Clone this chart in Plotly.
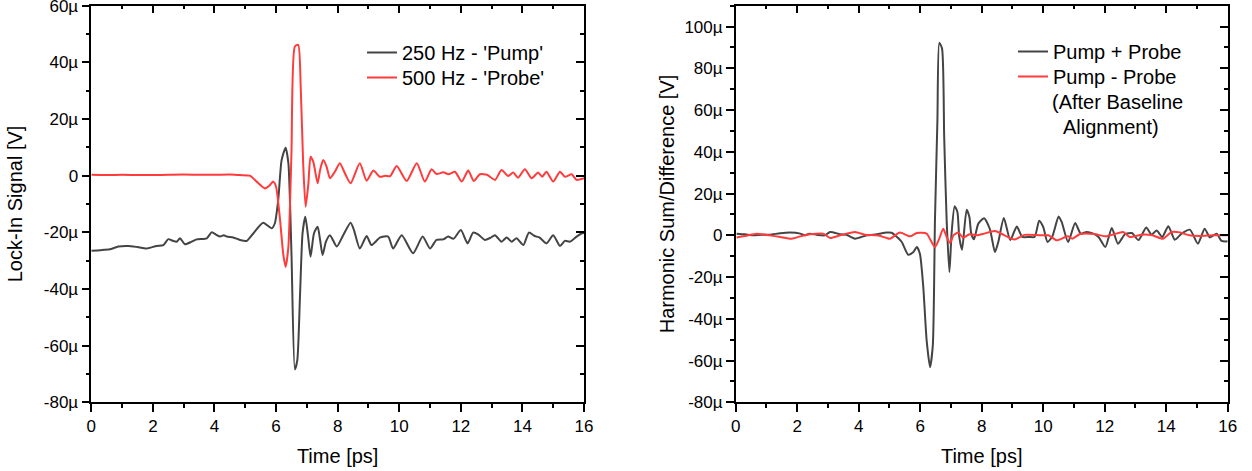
import plotly.graph_objects as go

# ---------------- data (µV vs ps) ----------------
pump_t = [0, 0.3, 0.6, 0.88, 1.2, 1.5, 1.8, 2.12, 2.34, 2.5, 2.65, 2.77, 2.88, 3.04, 3.26, 3.42,
          3.75, 3.91, 4.05, 4.18, 4.3, 4.4, 4.61, 4.83, 5.05, 5.26, 5.58, 5.86, 5.96, 6.07, 6.18,
          6.31, 6.4, 6.5, 6.61, 6.69, 6.78, 6.86, 6.95, 7.04, 7.12, 7.23, 7.35, 7.43, 7.51, 7.62,
          7.75, 7.97, 8.18, 8.42, 8.53, 8.72, 8.94, 9.1, 9.37, 9.64, 9.8, 10.08, 10.45, 10.76,
          11.0, 11.21, 11.43, 11.59, 11.76, 12.0, 12.22, 12.4, 12.56, 12.78, 12.95, 13.11, 13.32,
          13.49, 13.65, 13.81, 14.03, 14.21, 14.4, 14.55, 14.78, 15.0, 15.22, 15.38, 15.54, 15.76,
          15.92, 16.0]
pump_v = [-26.5, -26.3, -26.0, -25.0, -24.8, -25.2, -25.7, -24.8, -24.5, -22.4, -23.0, -23.3,
          -22.1, -24.2, -23.3, -22.5, -22.1, -20.0, -20.8, -21.5, -21.0, -21.5, -21.8, -22.7,
          -23.0, -20.4, -16.6, -18.6, -16.8, -8.6, 5.5, 9.9, 4.4, -27.4, -68.4, -65.1, -41.6,
          -20.4, -14.5, -21.5, -28.6, -20.4, -18.0, -22.7, -28.0, -23.3, -21.0, -25.0, -21.0,
          -16.6, -19.2, -25.7, -21.3, -24.5, -21.9, -21.5, -25.7, -21.0, -27.4, -21.5, -25.7,
          -22.7, -22.5, -21.5, -22.3, -19.2, -23.9, -20.1, -20.7, -22.7, -22.0, -21.0, -23.3,
          -21.8, -23.3, -22.1, -24.5, -20.1, -21.3, -21.8, -23.9, -21.0, -24.8, -23.0, -23.3,
          -21.5, -20.4, -20.2]

probe_t = [0, 0.5, 1, 1.5, 2, 2.5, 3, 3.5, 4, 4.5, 4.83, 5.15, 5.37, 5.64, 5.8, 5.91, 6.0, 6.13,
           6.23, 6.31, 6.4, 6.5, 6.61, 6.72, 6.8, 6.88, 6.96, 7.05, 7.12, 7.21, 7.35, 7.43, 7.53,
           7.64, 7.75, 7.91, 8.07, 8.25, 8.42, 8.72, 8.94, 9.16, 9.37, 9.55, 9.7, 9.92, 10.24,
           10.57, 10.83, 11.05, 11.21, 11.43, 11.6, 11.81, 12.03, 12.24, 12.42, 12.62, 12.85,
           13.11, 13.32, 13.54, 13.7, 13.86, 14.08, 14.3, 14.51, 14.64, 14.78, 15.0, 15.22,
           15.38, 15.6, 15.76, 16.0]
probe_v = [0.3, 0.2, 0.3, 0.2, 0.2, 0.3, 0.4, 0.3, 0.3, 0.4, 0.2, 0.0, -2.1, -4.5, -3.3, -2.1,
           -3.9, -15.7, -27.4, -32.2, -25.1, 7.9, 45.6, 46.2, 31.4, 4.4, -11.0, -2.7, 6.7, 4.9,
           -2.7, 2.0, 5.5, 3.2, -0.9, 1.4, 4.4, 0.5, -2.7, 4.4, -1.8, 1.8, -0.4, 0.0, -0.2, 3.4,
           -1.9, 4.4, -2.1, 2.3, 0.6, 1.2, 0.5, 1.4, -2.1, 1.8, -1.9, 0.5, 0.3, -1.5, 2.0, -0.1,
           1.1, -0.7, 2.3, -0.9, 1.1, -0.4, 1.4, -2.1, 1.4, -0.4, 0.5, -1.5, -0.9]

sum_t = [0.03, 0.3, 0.57, 0.85, 1.1, 1.45, 1.77, 2.1, 2.25, 2.4, 2.65, 2.9, 3.07, 3.4, 3.6, 3.88,
         4.26, 4.59, 4.91, 5.07, 5.18, 5.4, 5.61, 5.78, 5.89, 5.99, 6.1, 6.21, 6.32, 6.41, 6.48,
         6.56, 6.62, 6.71, 6.78, 6.86, 6.95, 7.02, 7.12, 7.21, 7.27, 7.36, 7.51, 7.6, 7.66, 7.75,
         7.89, 8.08, 8.27, 8.43, 8.54, 8.72, 8.93, 9.14, 9.32, 9.55, 9.72, 9.87, 10.0, 10.14,
         10.3, 10.5, 10.6, 10.81, 11.04, 11.22, 11.41, 11.63, 11.8, 12.02, 12.23, 12.43, 12.66,
         12.88, 13.1, 13.35, 13.52, 13.69, 13.87, 14.07, 14.28, 14.5, 14.77, 15.03, 15.25, 15.42,
         15.64, 15.8, 16.0]
sum_v = [0.8, 0.5, 0.0, 0.3, 0.3, 1.0, 1.3, 0.8, 0.0, 0.8, 0.2, 0.0, 1.6, 0.5, 0.3, -1.6, 0.0,
         0.5, 1.3, 1.2, 0.0, -3.2, -9.3, -8.0, -5.6, -8.8, -24.8, -50.4, -63.2, -52.8, 7.2, 55.2,
         92.2, 89.5, 47.1, 7.2, -17.6, 0.8, 13.9, 11.2, -0.8, -6.9, 12.3, 8.8, 0.8, -1.9, 5.6,
         8.2, 2.8, -8.0, -3.2, 8.3, -2.3, 4.2, -0.8, -0.8, -0.8, 7.0, 4.0, -3.2, -0.4, 9.0, 6.4,
         -3.2, 5.9, 0.8, 1.6, 0.8, -0.8, -5.6, 3.5, -4.0, 0.5, 1.1, -2.3, 3.8, 0.3, 2.3, -0.8,
         4.4, -2.1, 0.8, 2.7, -4.0, 3.2, -1.0, 0.8, -2.7, -2.9]

diff_t = [0.03, 0.35, 0.68, 1.1, 1.45, 1.82, 2.1, 2.42, 2.85, 3.07, 3.4, 3.88, 4.2, 4.6, 4.91,
          5.02, 5.34, 5.67, 5.89, 6.21, 6.34, 6.48, 6.62, 6.75, 6.86, 6.97, 7.08, 7.24, 7.4, 7.6,
          7.84, 8.08, 8.43, 8.74, 9.06, 9.39, 9.9, 10.17, 10.45, 10.8, 10.95, 11.2, 11.66, 12.04,
          12.3, 12.6, 12.82, 13.2, 13.55, 13.9, 14.18, 14.45, 14.75, 15.1, 15.53, 16.0]
diff_v = [-1.0, -0.2, 0.8, 0.0, -0.8, -1.6, -0.5, 0.5, 0.8, -1.3, 0.0, 1.6, 0.3, 0.0, -1.3, -1.6,
          1.3, -0.5, 1.1, 0.8, -2.4, -5.6, -1.6, 3.2, -0.8, -3.7, 0.0, 1.3, -1.1, 0.5, 0.0, 0.8,
          2.1, 0.0, -2.0, 0.2, 0.0, 0.0, -2.4, -0.5, -1.6, 0.6, 0.6, -0.5, 0.5, 1.6, -0.8, 0.3,
          0.0, -1.6, 1.6, 1.4, 0.0, -0.3, 0.0, 0.0]

x_ticks = [0, 2, 4, 6, 8, 10, 12, 14, 16]
left_yticks = [-80, -60, -40, -20, 0, 20, 40, 60]
right_yticks = [-80, -60, -40, -20, 0, 20, 40, 60, 80, 100]


def ulabel(v):
    return "0" if v == 0 else f"{v}µ"


# ---------------- styling ----------------
W, H = 1252, 471
FONT = "Liberation Sans, Arial, sans-serif"
DARK = "#444444"
RED = "#ff3b3b"
LINEW = 2
SMOOTH = 0.6

LX = [91.3 / W, 584.0 / W]
RX = [735.7 / W, 1227.7 / W]
YD = [(H - 402.3) / H, (H - 5.7) / H]

fig = go.Figure()


def line(color):
    return dict(color=color, width=LINEW, shape="spline", smoothing=SMOOTH)


fig.add_trace(go.Scatter(x=pump_t, y=pump_v, mode="lines", name="250 Hz - 'Pump'",
                         line=line(DARK), xaxis="x", yaxis="y", legend="legend"))
fig.add_trace(go.Scatter(x=probe_t, y=probe_v, mode="lines", name="500 Hz - 'Probe'",
                         line=line(RED), xaxis="x", yaxis="y", legend="legend3"))
fig.add_trace(go.Scatter(x=sum_t, y=sum_v, mode="lines", name="Pump + Probe",
                         line=line(DARK), xaxis="x2", yaxis="y2", legend="legend2"))
fig.add_trace(go.Scatter(x=diff_t, y=diff_v, mode="lines", name="Pump - Probe",
                         line=line(RED), xaxis="x2", yaxis="y2", legend="legend4"))
# empty traces to host the mirrored frame axes
fig.add_trace(go.Scatter(x=[None], y=[None], xaxis="x3", yaxis="y3", showlegend=False, hoverinfo="skip"))
fig.add_trace(go.Scatter(x=[None], y=[None], xaxis="x4", yaxis="y4", showlegend=False, hoverinfo="skip"))

tickfont = dict(family=FONT, size=17, color="black")
titlefont = dict(family=FONT, size=20, color="black")
legfont = dict(family=FONT, size=20, color="black")


def xax(domain, anchor, title=None, overlay=None, side="bottom", inside=False):
    d = dict(domain=domain, anchor=anchor, range=[0, 16], tickvals=x_ticks,
             ticktext=[str(v) for v in x_ticks],
             ticks="inside" if inside else "outside", ticklen=8, tickwidth=1.5, tickcolor="black",
             minor=dict(dtick=1, tick0=0, ticks="inside" if inside else "outside", ticklen=4,
                        tickwidth=1.5, tickcolor="black"),
             showline=True, linewidth=1.5, linecolor="black", showgrid=False, zeroline=False,
             tickfont=tickfont, automargin=False, side=side, fixedrange=True,
             ticklabeloverflow="allow")
    if title:
        d["title"] = dict(text=title, font=titlefont, standoff=14)
    if overlay:
        d["overlaying"] = overlay
        d["showticklabels"] = False
    return d


def yax(domain, anchor, rng, ticks, title=None, overlay=None, side="left", inside=False,
        standoff=10):
    d = dict(domain=domain, anchor=anchor, range=rng, tickvals=ticks,
             ticktext=[ulabel(v) for v in ticks],
             ticks="inside" if inside else "outside", ticklen=8, tickwidth=1.5, tickcolor="black",
             minor=dict(dtick=10, tick0=0, ticks="inside" if inside else "outside", ticklen=4,
                        tickwidth=1.5, tickcolor="black"),
             showline=True, linewidth=1.5, linecolor="black", showgrid=False, zeroline=False,
             tickfont=tickfont, automargin=False, side=side, fixedrange=True,
             ticklabeloverflow="allow")
    if title:
        d["title"] = dict(text=title, font=titlefont, standoff=standoff)
    if overlay:
        d["overlaying"] = overlay
        d["showticklabels"] = False
    return d


def leg(x_text, row_center):
    # legend text starts ~40px right of legend x; row centre ~19px below legend top
    return dict(x=(x_text - 40) / W, y=(H - (row_center - 19)) / H, xanchor="left",
                yanchor="top", bgcolor="rgba(0,0,0,0)", font=legfont, tracegroupgap=0)


fig.update_layout(
    width=W, height=H,
    margin=dict(l=0, r=0, t=0, b=0),
    paper_bgcolor="white", plot_bgcolor="white",
    template="none",
    font=dict(family=FONT, color="black"),
    xaxis=xax(LX, "y", "Time [ps]"),
    yaxis=yax(YD, "x", [-80, 60], left_yticks, "Lock-In Signal [V]", standoff=16),
    xaxis2=xax(RX, "y2", "Time [ps]"),
    yaxis2=yax(YD, "x2", [-80, 110], right_yticks, "Harmonic Sum/Difference [V]", standoff=4),
    xaxis3=xax(LX, "y3", overlay="x", side="top", inside=True),
    yaxis3=yax(YD, "x3", [-80, 60], left_yticks, overlay="y", side="right", inside=True),
    xaxis4=xax(RX, "y4", overlay="x2", side="top", inside=True),
    yaxis4=yax(YD, "x4", [-80, 110], right_yticks, overlay="y2", side="right", inside=True),
    legend=leg(402, 52),
    legend3=leg(402, 77),
    legend2=leg(1053, 51),
    legend4=leg(1053, 76),
    hovermode=False,
    showlegend=True,
)

fig.add_annotation(text="(After Baseline", xref="paper", yref="paper", x=1050 / W,
                   y=(H - 101.7) / H, xanchor="left", yanchor="middle", showarrow=False,
                   font=legfont)
fig.add_annotation(text="Alignment)", xref="paper", yref="paper", x=1061 / W,
                   y=(H - 126.7) / H, xanchor="left", yanchor="middle", showarrow=False,
                   font=legfont)

fig.write_html("out.html")
